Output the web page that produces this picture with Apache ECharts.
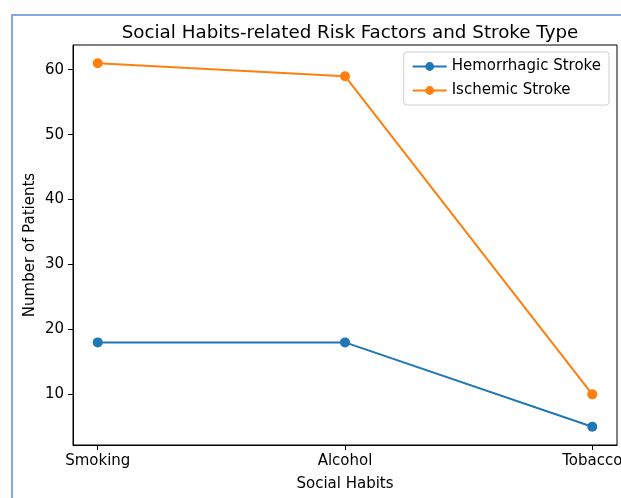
<!DOCTYPE html>
<html><head><meta charset="utf-8">
<script src="https://cdn.jsdelivr.net/npm/echarts@6/dist/echarts.min.js"></script>
<style>html,body{margin:0;padding:0;background:#fff}#c{width:621px;height:498px}</style>
</head><body><div id="c"></div>
<script>
const categories = ['Smoking', 'Alcohol', 'Tobacco'];
const hemorrhagic = [18, 18, 5];
const ischemic = [61, 59, 10];
const yTicks = [10, 20, 30, 40, 50, 60];

const font = 'DejaVu Sans';
const chart = echarts.init(document.getElementById('c'), null, {renderer: 'canvas'});
const toPts = arr => arr.map((v, i) => [i, v]);
chart.setOption({
  animation: false,
  backgroundColor: '#fff',
  graphic: [{type: 'rect', left: 9.5, top: 12.5, shape: {x: 0, y: 0, width: 700, height: 600}, style: {fill: 'none', stroke: '#5b8fd6', lineWidth: 1.5}, z: -1}],
  title: {text: 'Social Habits-related Risk Factors and Stroke Type', left: 345, top: 19, textAlign: 'center',
    textStyle: {fontFamily: font, fontSize: 18.3, fontWeight: 'normal', color: '#000'}},
  legend: {right: 12, top: 52, orient: 'vertical', itemGap: 9, itemWidth: 34, itemHeight: 11,
    padding: [7, 8, 7, 8], borderColor: '#d0d0d0', borderWidth: 1, borderRadius: 3,
    textStyle: {fontFamily: font, fontSize: 15, color: '#000'}, data: ['Hemorrhagic Stroke', 'Ischemic Stroke']},
  grid: {left: 73, top: 45, right: 4, bottom: 53, show: true, borderColor: '#000', borderWidth: 1, outerBoundsMode: 'none', containLabel: false},
  xAxis: {type: 'value', min: -0.1, max: 2.1, name: 'Social Habits', nameLocation: 'middle', nameGap: 32, nameMoveOverlap: false,
    nameTextStyle: {fontFamily: font, fontSize: 15, color: '#000'},
    axisLine: {show: true, onZero: false, lineStyle: {color: '#000'}}, splitLine: {show: false},
    axisTick: {show: true, length: 5, customValues: [0, 1, 2], lineStyle: {color: '#000'}},
    axisLabel: {customValues: [0, 1, 2], formatter: v => categories[Math.round(v)], fontFamily: font, fontSize: 15, color: '#000', margin: 9}},
  yAxis: {type: 'value', min: 2.2, max: 63.8, name: 'Number of Patients', nameLocation: 'middle', nameGap: 35, nameMoveOverlap: false,
    nameTextStyle: {fontFamily: font, fontSize: 15, color: '#000'},
    axisLine: {show: true, onZero: false, lineStyle: {color: '#000'}}, splitLine: {show: false},
    axisTick: {show: true, length: 5, customValues: yTicks, lineStyle: {color: '#000'}},
    axisLabel: {customValues: yTicks, fontFamily: font, fontSize: 15, color: '#000', margin: 9}},
  series: [
    {name: 'Hemorrhagic Stroke', type: 'line', data: toPts(hemorrhagic), color: '#1f77b4', symbol: 'circle', symbolSize: 10, lineStyle: {width: 2}, itemStyle: {color: '#1f77b4'}},
    {name: 'Ischemic Stroke', type: 'line', data: toPts(ischemic), color: '#ff7f0e', symbol: 'circle', symbolSize: 10, lineStyle: {width: 2}, itemStyle: {color: '#ff7f0e'}}
  ]
});
</script></body></html>
